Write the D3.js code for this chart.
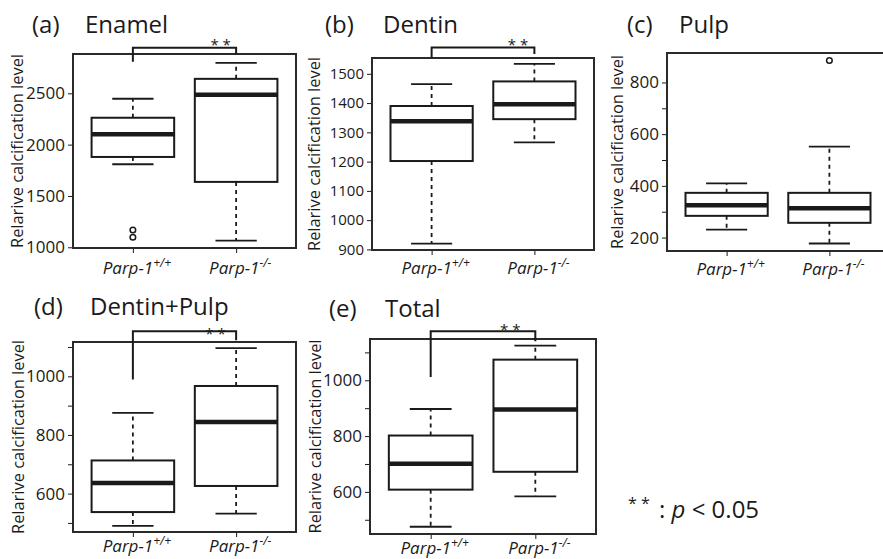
<!DOCTYPE html>
<html>
<head>
<meta charset="utf-8">
<script src="https://cdn.jsdelivr.net/npm/d3@7"></script>
<style>
  body { margin: 0; background: #fff; }
  svg { display: block; }
</style>
</head>
<body>
<script>
'use strict';

// group names, the superscript genotype goes in a tspan
var groupBase = ['Parp-1', 'Parp-1'];
var groupSup = ['+/+', '-/-'];

// box stats per group: [low whisker, q1, median, q3, high whisker]
var enamelStats = [[1809, 1880, 2100, 2262, 2447], [1064, 1637, 2486, 2641, 2796]];
var enamelOut = [[1168, 1097], []];
var dentinStats = [[920, 1202, 1338, 1390, 1465], [1266, 1345, 1396, 1474, 1534]];
var dentinOut = [[], []];
var pulpStats = [[231, 284, 325, 373, 410], [177, 257, 313, 373, 552]];
var pulpOut = [[], [885]];
var dpStats = [[490, 537, 636, 713, 875], [532, 626, 844, 967, 1096]];
var dpOut = [[], []];
var totalStats = [[475, 608, 701, 802, 897], [584, 672, 895, 1074, 1124]];
var totalOut = [[], []];

// tick values and which of them get a label
var enamelTicks = [1000, 1500, 2000, 2500];
var enamelLabels = [1000, 1500, 2000, 2500];
var dentinTicks = [900, 1000, 1100, 1200, 1300, 1400, 1500];
var dentinLabels = [900, 1000, 1100, 1200, 1300, 1400, 1500];
var pulpTicks = [200, 300, 400, 500, 600, 700, 800];
var pulpLabels = [200, 400, 600, 800];
var dpTicks = [500, 600, 700, 800, 900, 1000, 1100];
var dpLabels = [600, 800, 1000];
var totalTicks = [500, 600, 700, 800, 900, 1000, 1100];
var totalLabels = [600, 800, 1000];

// significance bracket: [left leg end, bracket top, right leg end, star x, star y]
var enamelSig = [2808, 2944, 2883, 1.85, 3004];
var dentinSig = [1554, 1590, 1568, 1.84, 1607];
var dpSig = [989, 1154, 1123, 1.80, 1156];
var totalSig = [1012, 1176, 1140, 1.76, 1190];

var yTitle = 'Relarive calcification level';

var panels = [
    {tag: '(a)', title: 'Enamel', stats: enamelStats, out: enamelOut, ticks: enamelTicks, labels: enamelLabels,
     domain: [993, 2883], frame: [73, 296, 54, 248], tagX: 32, titleX: 85, titleY: 33,
     yTitleX: 23, xLabelY: 274, tickFont: 17, sig: enamelSig},
    {tag: '(b)', title: 'Dentin', stats: dentinStats, out: dentinOut, ticks: dentinTicks, labels: dentinLabels,
     domain: [898, 1554], frame: [372, 594, 58, 250], tagX: 325, titleX: 383, titleY: 33,
     yTitleX: 320, xLabelY: 274, tickFont: 15, sig: dentinSig},
    {tag: '(c)', title: 'Pulp', stats: pulpStats, out: pulpOut, ticks: pulpTicks, labels: pulpLabels,
     domain: [148, 914], frame: [667, 889, 53, 251], tagX: 627, titleX: 679, titleY: 33,
     yTitleX: 623, xLabelY: 275, tickFont: 17, sig: null},
    {tag: '(d)', title: 'Dentin+Pulp', stats: dpStats, out: dpOut, ticks: dpTicks, labels: dpLabels,
     domain: [469, 1117], frame: [73, 296, 342, 532], tagX: 34, titleX: 90, titleY: 315,
     yTitleX: 24, xLabelY: 552, tickFont: 17, sig: dpSig},
    {tag: '(e)', title: 'Total', stats: totalStats, out: totalOut, ticks: totalTicks, labels: totalLabels,
     domain: [449, 1148], frame: [370, 596, 339, 534], tagX: 329, titleX: 385, titleY: 317,
     yTitleX: 321, xLabelY: 554, tickFont: 17, sig: totalSig}
];

var FONT = '"Open Sans", sans-serif';
var INK = '#1a1a1a';

var svg = d3.select('body').append('svg')
    .attr('width', 883)
    .attr('height', 559);

svg.append('rect').attr('width', 883).attr('height', 559).attr('fill', '#fff');

panels.forEach(drawPanel);

// legend for the stars
svg.append('text')
    .attr('x', 628).attr('y', 509)
    .attr('font-family', FONT).attr('font-size', 16).attr('fill', INK)
    .text('* *');
var leg = svg.append('text')
    .attr('x', 659).attr('y', 518)
    .attr('font-family', FONT).attr('font-size', 24).attr('fill', INK);
leg.append('tspan').text(': ');
leg.append('tspan').attr('font-style', 'italic').text('p');
leg.append('tspan').text(' < 0.05');

function drawPanel(p) {
    var x0 = p.frame[0], x1 = p.frame[1], y0 = p.frame[2], y1 = p.frame[3];

    // R style x range: 0.5..2.5 plus 4%
    var x = d3.scaleLinear().domain([0.42, 2.58]).range([x0, x1]);
    var y = d3.scaleLinear().domain(p.domain).range([y1, y0]);

    var g = svg.append('g');

    // title
    var t = g.append('text')
        .attr('y', p.titleY)
        .attr('font-family', FONT).attr('font-size', 24).attr('fill', INK);
    t.append('tspan').attr('x', p.tagX).text(p.tag);
    t.append('tspan').attr('x', p.titleX).text(p.title);

    // y axis
    var ya = g.append('g')
        .attr('transform', 'translate(' + x0 + ',0)')
        .call(d3.axisLeft(y)
            .tickValues(p.ticks)
            .tickSize(5)
            .tickPadding(3)
            .tickFormat(function(d) { return p.labels.indexOf(d) >= 0 ? d : ''; }));
    ya.select('.domain').remove();
    ya.attr('font-family', FONT).attr('font-size', p.tickFont);
    ya.selectAll('line').attr('stroke', INK).attr('stroke-width', 1);
    ya.selectAll('text').attr('fill', INK);

    // x axis, tick marks only
    var xa = g.append('g')
        .attr('transform', 'translate(0,' + y1 + ')')
        .call(d3.axisBottom(x).tickValues([1, 2]).tickSize(5).tickFormat(''));
    xa.select('.domain').remove();
    xa.selectAll('line').attr('stroke', INK).attr('stroke-width', 1);

    // y axis title
    var cy = (y0 + y1) / 2;
    g.append('text')
        .attr('transform', 'translate(' + p.yTitleX + ',' + cy + ') rotate(-90)')
        .attr('text-anchor', 'middle')
        .attr('font-family', FONT).attr('font-size', 16).attr('fill', INK)
        .attr('textLength', 194).attr('lengthAdjust', 'spacingAndGlyphs')
        .text(yTitle);

    // group labels
    groupBase.forEach(function(name, i) {
        var lab = g.append('text')
            .attr('x', x(i + 1) + 4)
            .attr('y', p.xLabelY)
            .attr('text-anchor', 'middle')
            .attr('font-family', FONT).attr('font-size', 17)
            .attr('font-style', 'italic').attr('fill', INK);
        lab.append('tspan').text(name);
        lab.append('tspan').attr('font-size', 12).attr('dy', -7).text(groupSup[i]);
    });

    // boxes
    p.stats.forEach(function(s, i) {
        var cx = i + 1;
        var bg = g.append('g').attr('fill', 'none').attr('stroke', INK);

        // dashed whiskers
        bg.append('line')
            .attr('x1', x(cx)).attr('x2', x(cx))
            .attr('y1', y(s[3])).attr('y2', y(s[4]))
            .attr('stroke-width', 1.8).attr('stroke-dasharray', '4,4');
        bg.append('line')
            .attr('x1', x(cx)).attr('x2', x(cx))
            .attr('y1', y(s[1])).attr('y2', y(s[0]))
            .attr('stroke-width', 1.8).attr('stroke-dasharray', '4,4');

        // caps, half the box width
        [s[0], s[4]].forEach(function(v) {
            bg.append('line')
                .attr('x1', x(cx - 0.2)).attr('x2', x(cx + 0.2))
                .attr('y1', y(v)).attr('y2', y(v))
                .attr('stroke-width', 1.8);
        });

        // box
        bg.append('rect')
            .attr('x', x(cx - 0.4))
            .attr('y', y(s[3]))
            .attr('width', x(cx + 0.4) - x(cx - 0.4))
            .attr('height', y(s[1]) - y(s[3]))
            .attr('fill', '#fff')
            .attr('stroke-width', 2);

        // median
        bg.append('line')
            .attr('x1', x(cx - 0.4)).attr('x2', x(cx + 0.4))
            .attr('y1', y(s[2])).attr('y2', y(s[2]))
            .attr('stroke-width', 4.5);

        // outliers
        p.out[i].forEach(function(v) {
            bg.append('circle')
                .attr('cx', x(cx)).attr('cy', y(v)).attr('r', 2.8)
                .attr('stroke-width', 1.5);
        });
    });

    // frame
    g.append('rect')
        .attr('x', x0).attr('y', y0)
        .attr('width', x1 - x0).attr('height', y1 - y0)
        .attr('fill', 'none').attr('stroke', '#2a2a2a').attr('stroke-width', 2);

    // significance bracket
    if (p.sig) {
        var s = p.sig;
        g.append('path')
            .attr('d', 'M' + x(1) + ',' + y(s[0]) +
                       'V' + y(s[1]) +
                       'H' + x(2) +
                       'V' + y(s[2]))
            .attr('fill', 'none').attr('stroke', INK).attr('stroke-width', 2);
        g.append('text')
            .attr('x', x(s[3])).attr('y', y(s[4]) + 8)
            .attr('text-anchor', 'middle')
            .attr('font-family', FONT).attr('font-size', 15).attr('fill', INK)
            .text('* *');
    }
}
</script>
</body>
</html>
